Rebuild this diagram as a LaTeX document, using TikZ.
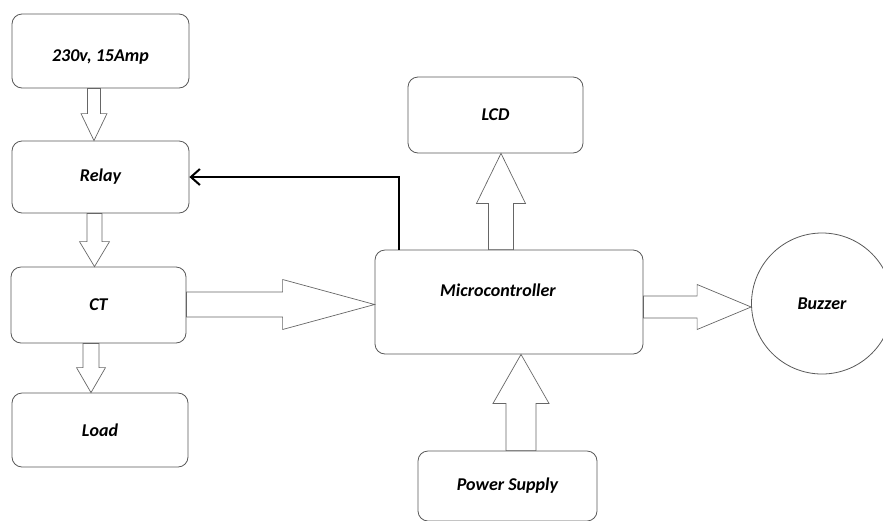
\documentclass[tikz,border=0pt]{standalone}
\usepackage{fontspec}
\setmainfont{Carlito}
\usetikzlibrary{calc,arrows.meta}

\tikzset{
  blockbox/.style={draw=black!65, line width=0.8pt, rounded corners=10pt, font=\bfseries\itshape\fontsize{18}{21}\selectfont},
  fatline/.style={draw=black!60, line width=0.7pt},
  ctrlline/.style={line width=2pt, -{Straight Barb[length=9pt,width=16pt]}},
}

% hollow block arrow: start, tip, half shaft width, half head width, head length
\newcommand{\fatarrow}[5]{%
  \coordinate (hb) at ($(#2)!#5!(#1)$);
  \draw[fatline] ($(#1)!#3!90:(#2)$) -- ($(hb)!#3!90:(#2)$) -- ($(hb)!#4!90:(#2)$)
    -- (#2) -- ($(hb)!#4!-90:(#2)$) -- ($(hb)!#3!-90:(#2)$) -- ($(#1)!#3!-90:(#2)$) -- cycle;
}

\begin{document}
\begin{tikzpicture}[x=1pt,y=-1pt]
  \useasboundingbox (0,0) rectangle (883,520);
  \clip (0,0) rectangle (883,520);

  % blocks
  \node[blockbox, minimum width=177pt, minimum height=74pt, text height=24pt, text depth=4pt] (src) at (100.5,51) {230v, 15Amp};
  \node[blockbox, minimum width=177pt, minimum height=72pt] (relay) at (100.5,177) {Relay};
  \node[blockbox, minimum width=175pt, minimum height=76pt] (ct) at (98.5,305) {CT};
  \node[blockbox, minimum width=176pt, minimum height=74pt] (load) at (100,430) {Load};
  \node[blockbox, minimum width=175pt, minimum height=76pt] (lcd) at (495.5,115) {LCD};
  \node[blockbox, minimum width=268pt, minimum height=104pt,
        label={[xshift=-11pt,yshift=12pt,font=\bfseries\itshape\fontsize{18}{21}\selectfont]center:Microcontroller}] (micro) at (509,302) {};
  \node[blockbox, minimum width=179pt, minimum height=70pt] (power) at (507.5,486) {Power Supply};
  \node[blockbox, circle, minimum size=141pt] (buzzer) at (822,303.5) {Buzzer};

  % arrow ends
  \coordinate (s1) at ($(src.south)+(-6.5,0)$);
  \coordinate (t1) at ($(relay.north)+(-6.5,0)$);
  \coordinate (s2) at ($(relay.south)+(-6,0)$);
  \coordinate (t2) at ($(ct.north)+(-4,0)$);
  \coordinate (s3) at ($(ct.south)+(-7.5,0)$);
  \coordinate (t3) at ($(load.north)+(-9,0)$);
  \coordinate (s4) at ($(ct.east)+(0,-0.5)$);
  \coordinate (t4) at ($(micro.west)+(0,2.5)$);
  \coordinate (s5) at ($(micro.north)+(-8,0)$);
  \coordinate (t5) at ($(lcd.south)+(5.5,0)$);
  \coordinate (s6) at ($(micro.east)+(0,5)$);
  \coordinate (t6) at ($(buzzer.west)+(0,3.5)$);
  \coordinate (s7) at ($(power.north)+(13.5,0)$);
  \coordinate (t7) at ($(micro.south)+(12,0)$);
  \coordinate (ctrl) at ($(micro.north west)+(24,0)$);

  \fatarrow{s1}{t1}{6.5pt}{13pt}{27pt}
  \fatarrow{s2}{t2}{7.5pt}{15pt}{25pt}
  \fatarrow{s3}{t3}{8pt}{14.5pt}{25pt}
  \fatarrow{s4}{t4}{12.5pt}{25pt}{92pt}
  \fatarrow{s5}{t5}{12.5pt}{24.5pt}{50pt}
  \fatarrow{s6}{t6}{11pt}{22.5pt}{54pt}
  \fatarrow{s7}{t7}{15pt}{28pt}{49pt}

  \draw[ctrlline] (ctrl) |- (relay.east);
\end{tikzpicture}
\end{document}
